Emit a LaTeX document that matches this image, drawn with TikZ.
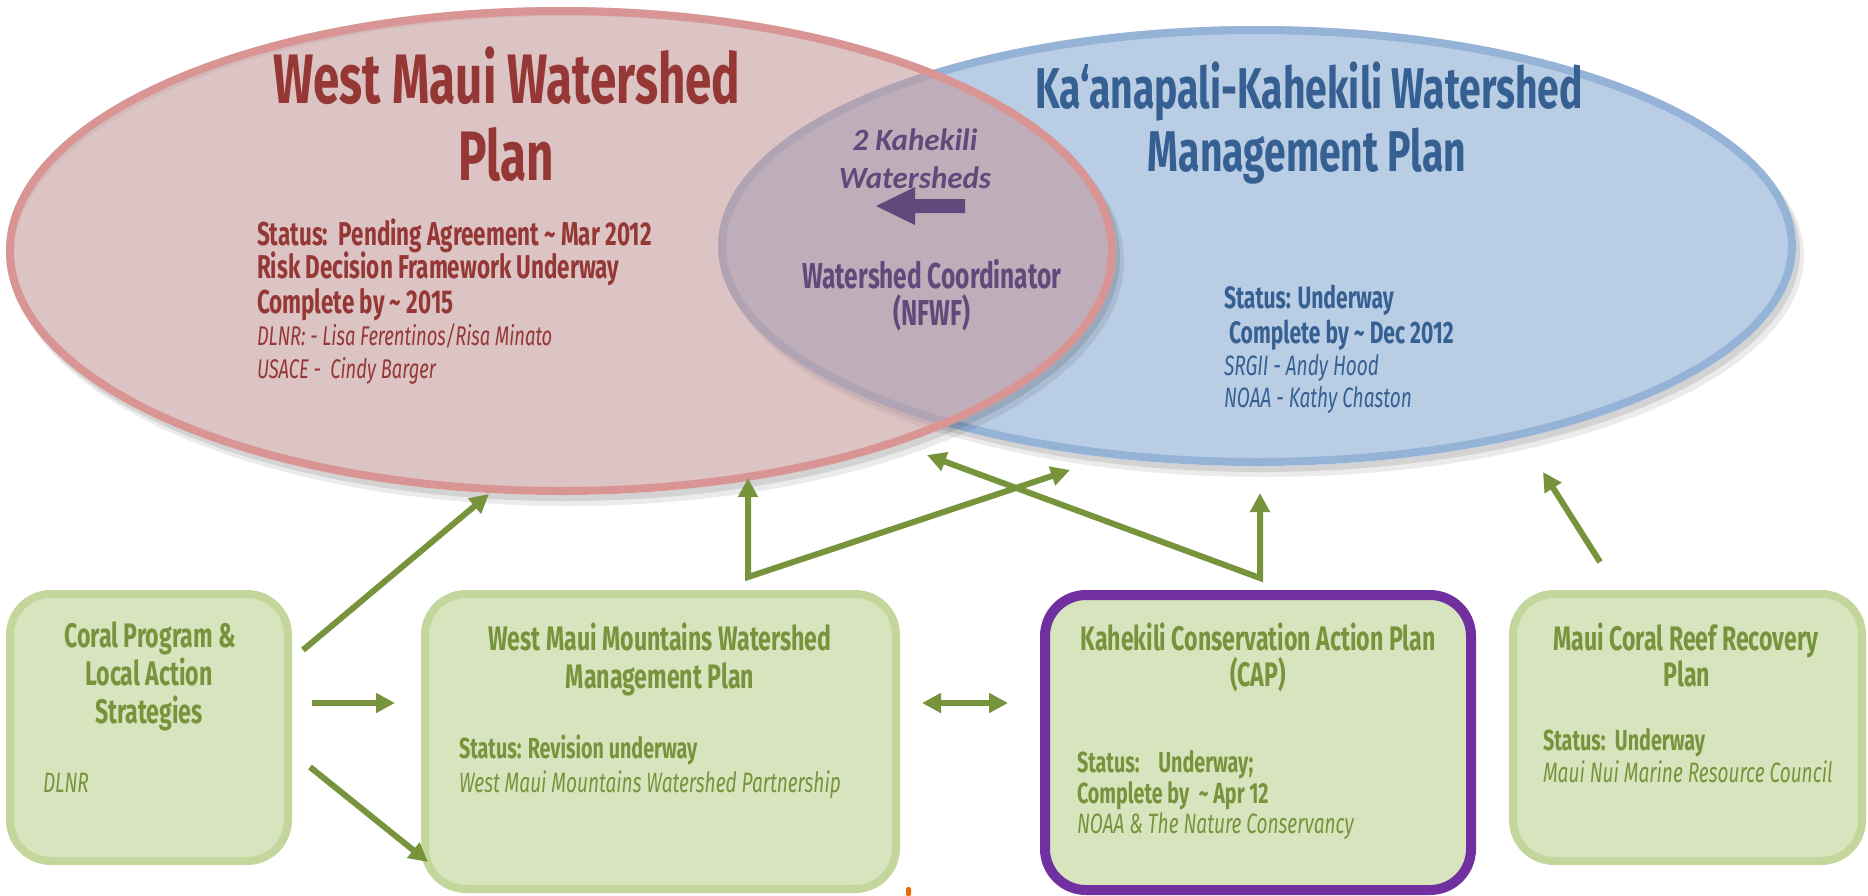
\documentclass[tikz,border=0pt]{standalone}
\usepackage{fontspec}
\usetikzlibrary{shapes.geometric,arrows.meta}
\newfontfamily\af{Fira Sans}[FakeStretch=0.68]
\newfontfamily\cf{Carlito}
\definecolor{redfill}{RGB}{196,153,155}
\definecolor{redline}{RGB}{217,149,148}
\definecolor{bluefill}{RGB}{185,205,229}
\definecolor{blueline}{RGB}{149,179,215}
\definecolor{redtext}{RGB}{149,55,53}
\definecolor{bluetext}{RGB}{54,96,146}
\definecolor{purptext}{RGB}{96,74,123}
\definecolor{greentext}{RGB}{119,147,60}
\definecolor{boxfill}{RGB}{215,228,189}
\definecolor{boxline}{RGB}{195,214,155}
\definecolor{capline}{RGB}{112,48,160}
\definecolor{arrowgreen}{RGB}{119,147,60}
\definecolor{orangemark}{RGB}{228,108,10}
\newcommand\fsz[2]{\fontsize{#1}{#2}\selectfont}
\begin{document}
\begin{tikzpicture}[x=1pt,y=-1pt,
  lbl/.style={inner sep=0pt, outer sep=0pt},
  redtitle/.style={lbl, text=redtext, font=\af\bfseries\fsz{70}{70}, anchor=base},
  redstat/.style={lbl, text=redtext, font=\af\bfseries\fsz{33}{33}, anchor=base west},
  redname/.style={lbl, text=redtext, font=\af\itshape\fsz{27}{27}, anchor=base west},
  bluetitle/.style={lbl, text=bluetext, font=\af\bfseries\fsz{57.5}{57.5}, anchor=base},
  bluestat/.style={lbl, text=bluetext, font=\af\bfseries\fsz{31}{31}, anchor=base west},
  bluename/.style={lbl, text=bluetext, font=\af\itshape\fsz{28}{28}, anchor=base west},
  purpit/.style={lbl, text=purptext, font=\cf\bfseries\itshape\fsz{31}{31}, anchor=base},
  purpbf/.style={lbl, text=purptext, font=\af\bfseries\fsz{36}{36}, anchor=base},
  greentitle/.style={lbl, text=greentext, font=\af\bfseries\fsz{34}{34}, anchor=base},
  greenstat/.style={lbl, text=greentext, font=\af\bfseries\fsz{29}{29}, anchor=base west},
  greenname/.style={lbl, text=greentext, font=\af\itshape\fsz{28}{28}, anchor=base west},
  plainbox/.style={rectangle, rounded corners=41pt, draw=boxline, fill=boxfill, line width=8pt, inner sep=0pt},
  capbox/.style={rectangle, rounded corners=41pt, draw=capline, fill=boxfill, line width=10pt, inner sep=0pt},
  arr/.style={draw=arrowgreen, line width=6pt, line join=miter, -{Triangle[length=19pt,width=19pt]}},
  darr/.style={draw=arrowgreen, line width=6pt, {Triangle[length=19pt,width=19pt]}-{Triangle[length=19pt,width=19pt]}},
  vee/.style={draw=arrowgreen, line width=6pt, line join=miter, {Triangle[length=19pt,width=19pt]}-{Triangle[length=19pt,width=19pt]}}
]
\useasboundingbox (0,0) rectangle (1868,895);
\fill[white] (0,0) rectangle (1868,895);

% blue ellipse + shadow
\fill[black, opacity=0.10, even odd rule] (1261,252) ellipse [x radius=539pt, y radius=220pt] (1257,246) ellipse [x radius=539pt, y radius=220pt];
\fill[black, opacity=0.08, even odd rule] (1264,256) ellipse [x radius=540pt, y radius=221pt] (1257,246) ellipse [x radius=539pt, y radius=220pt];
\node[ellipse, draw=blueline, fill=bluefill, line width=8pt, inner sep=0pt, minimum width=1070pt, minimum height=432pt] (blue) at (1257,246) {};

% red ellipse + shadow
\fill[black, opacity=0.10, even odd rule] (565,257) ellipse [x radius=555pt, y radius=244pt] (561,251) ellipse [x radius=555pt, y radius=244pt];
\fill[black, opacity=0.08, even odd rule] (568,261) ellipse [x radius=556pt, y radius=245pt] (561,251) ellipse [x radius=555pt, y radius=244pt];
\node[ellipse, draw=redline, fill=redfill, fill opacity=0.59, line width=8pt, inner sep=0pt, minimum width=1102pt, minimum height=480pt] (red) at (561,251) {};

% red texts
\node[redtitle] (rt1) at (507,103) {West Maui Watershed};
\node[redtitle] (rt2) at (506,180) {Plan};
\node[redstat] (rs1) at (257,245) {Status:\ \ Pending Agreement \textasciitilde{} Mar 2012};
\node[redstat] (rs2) at (257,278) {Risk Decision Framework Underway};
\node[redstat] (rs3) at (257,313) {Complete by \textasciitilde{} 2015};
\node[redname] (rn1) at (257,345) {DLNR: - Lisa Ferentinos/Risa Minato};
\node[redname] (rn2) at (257,378) {USACE -\ \ Cindy Barger};

% overlap texts
\node[purpit] (p1) at (915,150) {2 Kahekili};
\node[purpit] (p2) at (915,188) {Watersheds};
\fill[purptext] (965,199) -- (915,199) -- (915,187) -- (876,206) -- (915,225) -- (915,213) -- (965,213) -- cycle;
\node[purpbf] (p3) at (932,288) {Watershed Coordinator};
\node[purpbf] (p4) at (932,325) {(NFWF)};

% blue texts
\node[bluetitle] (bt1) at (1309,108) {Ka‘anapali-Kahekili Watershed};
\node[bluetitle] (bt2) at (1307,171) {Management Plan};
\node[bluestat] (bs1) at (1224,308) {Status: Underway};
\node[bluestat] (bs2) at (1224,343) {\ Complete by \textasciitilde{} Dec 2012};
\node[bluename] (bn1) at (1224,375) {SRGII - Andy Hood};
\node[bluename] (bn2) at (1224,407) {NOAA - Kathy Chaston};

% boxes
\node[plainbox, minimum width=278pt, minimum height=267pt] (coral) at (149,727.5) {};
\node[plainbox, minimum width=471pt, minimum height=295pt] (wm) at (660.5,741.5) {};
\node[capbox, minimum width=426pt, minimum height=295pt] (cap) at (1258,742.5) {};
\node[plainbox, minimum width=349pt, minimum height=267pt] (mc) at (1687.5,727.5) {};

% box texts
\node[greentitle] (c1) at (150,647) {Coral Program \&};
\node[greentitle] (c2) at (149,685) {Local Action};
\node[greentitle] (c3) at (149,723) {Strategies};
\node[greenname] (c4) at (43,792) {DLNR};

\node[greentitle] (w1) at (660,650) {West Maui Mountains Watershed};
\node[greentitle] (w2) at (660,688) {Management Plan};
\node[greenstat] (w3) at (459,758) {Status: Revision underway};
\node[greenname] (w4) at (459,792) {West Maui Mountains Watershed Partnership};

\node[greentitle] (k1) at (1258,650) {Kahekili Conservation Action Plan};
\node[greentitle] (k2) at (1258,686) {(CAP)};
\node[greenstat] (k3) at (1077,772) {Status:\ \ \ \ Underway;};
\node[greenstat] (k4) at (1077,803) {Complete by\ \ \textasciitilde{} Apr 12};
\node[greenname] (k5) at (1077,833) {NOAA \& The Nature Conservancy};

\node[greentitle] (m1) at (1686,650) {Maui Coral Reef Recovery};
\node[greentitle] (m2) at (1687,686) {Plan};
\node[greenstat] (m3) at (1543,750) {Status:\ \ Underway};
\node[greenname] (m4) at (1543,782) {Maui Nui Marine Resource Council};

% arrow end points
\coordinate (a1s) at (303,650);  \coordinate (a1e) at (489,494);
\coordinate (a2s) at (312,703);  \coordinate (a2e) at (395,703);
\coordinate (a3s) at (310,767);  \coordinate (a3e) at (428,862);
\coordinate (wmj) at (748,577);  \coordinate (wmr) at (748,478);  \coordinate (wmb) at (1070,470);
\coordinate (dl) at (922,703);   \coordinate (dr) at (1008,703);
\coordinate (capj) at (1260,578); \coordinate (capb) at (1260,493); \coordinate (capr) at (927,455);
\coordinate (mcs) at (1600,562); \coordinate (mce) at (1543,472);

\draw[arr] (a1s) -- (a1e);
\draw[arr] (a2s) -- (a2e);
\draw[arr] (a3s) -- (a3e);
\draw[vee] (wmr) -- (wmj) -- (wmb);
\draw[darr] (dl) -- (dr);
\draw[vee] (capb) -- (capj) -- (capr);
\draw[arr] (mcs) -- (mce);

% small orange mark
\fill[orangemark, rounded corners=1.5pt] (906,887) rectangle (911,896);
\end{tikzpicture}
\end{document}
